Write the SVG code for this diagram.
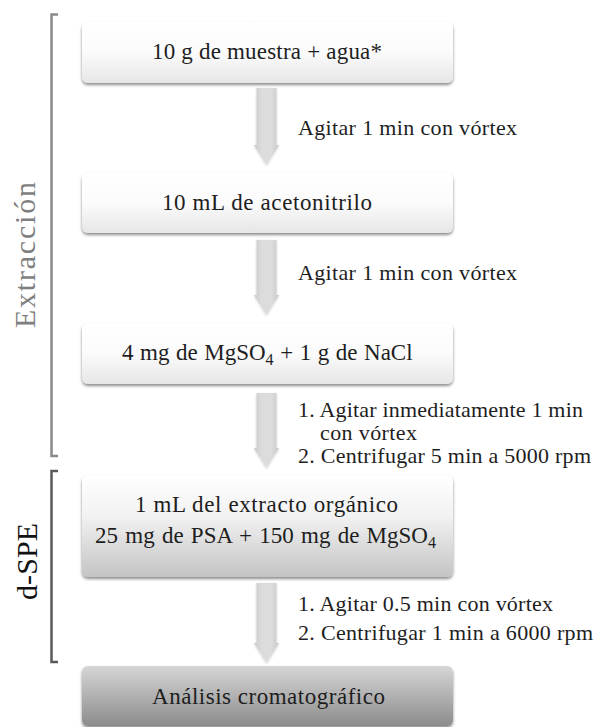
<svg xmlns="http://www.w3.org/2000/svg" width="597" height="727" viewBox="0 0 597 727">
<style>
text{font-family:"Liberation Serif","Times New Roman",serif;}
.bx{font-size:23px;fill:#1e1e1e;}
.lb{font-size:22px;fill:#1e1e1e;}
.sub{font-size:16px;}
.br{fill:none;stroke-width:2.5;}
</style>
<defs>
<linearGradient id="g1" x1="0" y1="0" x2="0" y2="1"><stop offset="0" stop-color="#ffffff"/><stop offset="0.5" stop-color="#fbfbfb"/><stop offset="1" stop-color="#e6e6e6"/></linearGradient>
<linearGradient id="g4" x1="0" y1="0" x2="0" y2="1"><stop offset="0" stop-color="#ffffff"/><stop offset="0.4" stop-color="#f2f2f2"/><stop offset="1" stop-color="#c4c4c4"/></linearGradient>
<linearGradient id="g5" x1="0" y1="0" x2="0" y2="1"><stop offset="0" stop-color="#d6d6d6"/><stop offset="1" stop-color="#8c8c8c"/></linearGradient>
<linearGradient id="ga" x1="0" y1="0" x2="1" y2="0"><stop offset="0" stop-color="#c8c8c8"/><stop offset="0.3" stop-color="#dcdcdc"/><stop offset="0.7" stop-color="#dcdcdc"/><stop offset="1" stop-color="#c8c8c8"/></linearGradient>
<filter id="sh" x="-10%" y="-20%" width="120%" height="150%"><feDropShadow dx="0" dy="2" stdDeviation="1.5" flood-color="#000" flood-opacity="0.45"/></filter>
<filter id="sha" x="-30%" y="-10%" width="160%" height="130%"><feDropShadow dx="0" dy="1" stdDeviation="1" flood-color="#000" flood-opacity="0.2"/></filter>
</defs>
<g id="connectors" fill="url(#ga)" filter="url(#sha)">
<path d="M256.5,88 H276.5 V145 H279 L266.5,165 L254,145 H256.5 Z"/>
<path d="M256.5,240 H276.5 V295 H279 L266.5,315 L254,295 H256.5 Z"/>
<path d="M256.5,393 H276.5 V448 H279 L266.5,468 L254,448 H256.5 Z"/>
<path d="M256.5,583 H276.5 V643 H279 L266.5,663 L254,643 H256.5 Z"/>
</g>
<g id="labels">
<text class="lb" x="298" y="135" textLength="219" lengthAdjust="spacing">Agitar 1 min  con vórtex</text>
<text class="lb" x="298" y="280" textLength="219" lengthAdjust="spacing">Agitar 1 min  con vórtex</text>
<text class="lb" x="298" y="417" textLength="285" lengthAdjust="spacing">1. Agitar inmediatamente  1 min</text>
<text class="lb" x="320" y="440" textLength="97" lengthAdjust="spacing">con vórtex</text>
<text class="lb" x="298" y="463" textLength="293" lengthAdjust="spacing">2. Centrifugar 5 min a 5000 rpm</text>
<text class="lb" x="298" y="611" textLength="255" lengthAdjust="spacing">1. Agitar 0.5 min con vórtex</text>
<text class="lb" x="298" y="640" textLength="295" lengthAdjust="spacing">2. Centrifugar 1 min a 6000 rpm</text>
</g>
<g id="n1">
<rect x="82" y="22" width="371" height="61" rx="6" fill="url(#g1)" filter="url(#sh)"/>
<text class="bx" x="152" y="59" textLength="230" lengthAdjust="spacing">10 g de muestra  + agua*</text>
</g>
<g id="n2">
<rect x="82" y="173" width="371" height="60" rx="6" fill="url(#g1)" filter="url(#sh)"/>
<text class="bx" x="162" y="210" textLength="210" lengthAdjust="spacing">10 mL de acetonitrilo</text>
</g>
<g id="n3">
<rect x="82" y="323" width="371" height="61" rx="6" fill="url(#g1)" filter="url(#sh)"/>
<text class="bx" x="122" y="360" word-spacing="0.8">4 mg de MgSO<tspan class="sub" dy="5">4</tspan><tspan dy="-5"> + 1 g de NaCl</tspan></text>
</g>
<g id="n4">
<rect x="82" y="475" width="371" height="102" rx="6" fill="url(#g4)" filter="url(#sh)"/>
<text class="bx" x="135" y="512" textLength="263" lengthAdjust="spacing">1 mL del extracto  orgánico</text>
<text class="bx" x="95" y="543" word-spacing="1.5">25 mg de PSA + 150 mg de MgSO<tspan class="sub" dy="5">4</tspan></text>
</g>
<g id="n5">
<rect x="82" y="666" width="371" height="60" rx="6" fill="url(#g5)" filter="url(#sh)"/>
<text class="bx" x="152" y="704" textLength="233" lengthAdjust="spacing">Análisis cromatográfico</text>
</g>
<g id="extraccion">
<path class="br" stroke="#8a8a8a" d="M58,14.5 H51.5 V456 H58"/>
<text style="font-size:30px;fill:#7f7f7f" transform="translate(35,328) rotate(-90)" textLength="146" lengthAdjust="spacing">Extracción</text>
</g>
<g id="dspe">
<path class="br" stroke="#5a5a5a" d="M58,471 H51.5 V662 H58"/>
<text style="font-size:30px;fill:#111" transform="translate(37,600) rotate(-90)" textLength="77" lengthAdjust="spacing">d-SPE</text>
</g>
</svg>
